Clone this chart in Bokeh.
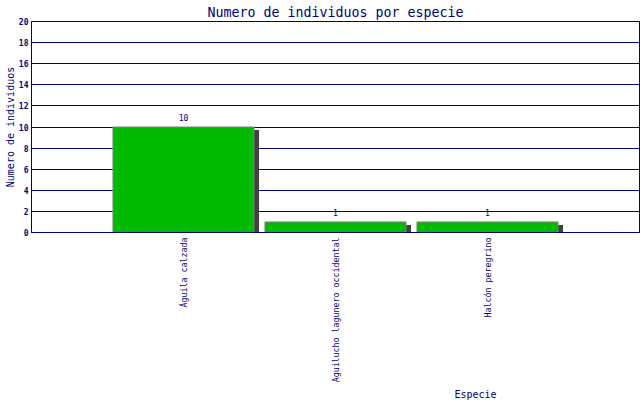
import math
from bokeh.plotting import figure
from bokeh.embed import file_html
from bokeh.resources import INLINE
from bokeh.models import Range1d, FixedTicker, Title, ColumnDataSource
from bokeh.core.properties import value

# data
especies = ["Águila calzada", "Aguilucho lagunero occidental", "Halcón peregrino"]
individuos = [10, 1, 1]
y_ticks = [0, 2, 4, 6, 8, 10, 12, 14, 16, 18, 20]

NAVY = "#000080"
MONO = "DejaVu Sans Mono"

xs = list(range(1, len(especies) + 1))
src = ColumnDataSource(data=dict(
    x=xs,
    top=individuos,
    label=[str(v) for v in individuos],
    sx=[x + 0.033 for x in xs],
    stop=[v - 0.28 for v in individuos],
))

p = figure(width=640, height=400, output_backend="svg", toolbar_location=None,
           x_range=Range1d(0, len(especies) + 1), y_range=Range1d(0, 20),
           title="Numero de individuos por especie")
p.min_border_left = 31
p.min_border_right = 1
p.min_border_top = 20
p.min_border_bottom = 167
p.background_fill_color = "white"
p.border_fill_color = "white"
p.outline_line_color = NAVY
p.outline_line_width = 1

p.title.align = "center"
p.title.text_color = NAVY
p.title.text_font = MONO
p.title.text_font_size = "13.3px"
p.title.text_font_style = "normal"
p.title.standoff = 4

# grid
p.xgrid.grid_line_color = None
p.ygrid.grid_line_color = NAVY
p.ygrid.grid_line_width = 1
p.ygrid.ticker = FixedTicker(ticks=y_ticks)

# y axis
p.yaxis.ticker = FixedTicker(ticks=y_ticks)
p.yaxis.axis_label = "Numero de individuos"
p.yaxis.axis_label_text_font = MONO
p.yaxis.axis_label_text_font_size = "10px"
p.yaxis.axis_label_text_font_style = "normal"
p.yaxis.axis_label_text_color = NAVY
p.yaxis.axis_label_standoff = 0
p.yaxis.major_label_text_font = MONO
p.yaxis.major_label_text_font_size = "8px"
p.yaxis.major_label_text_font_style = "bold"
p.yaxis.major_label_text_color = NAVY
p.yaxis.major_label_standoff = 3
p.yaxis.major_tick_out = 0
p.yaxis.major_tick_in = 0
p.yaxis.minor_tick_out = 0
p.yaxis.minor_tick_in = 0
p.yaxis.axis_line_color = NAVY

# x axis
p.xaxis.ticker = FixedTicker(ticks=xs)
p.xaxis.major_label_overrides = {x: e for x, e in zip(xs, especies)}
p.xaxis.major_label_orientation = math.pi / 2
p.xaxis.major_label_text_font = MONO
p.xaxis.major_label_text_font_size = "8.3px"
p.xaxis.major_label_text_color = NAVY
p.xaxis.major_label_standoff = 5
p.xaxis.major_tick_out = 0
p.xaxis.major_tick_in = 0
p.xaxis.minor_tick_out = 0
p.xaxis.minor_tick_in = 0
p.xaxis.axis_line_color = NAVY

# x axis title, sits right of centre in the original
p.add_layout(Title(text="Especie", align="left", offset=423, standoff=2,
                   text_font=MONO, text_font_size="10px", text_font_style="normal",
                   text_color=NAVY), "below")

# shadows then bars
p.vbar(x="sx", top="stop", width=0.928, bottom=0, source=src,
       fill_color="#404040", line_color=None)
p.vbar(x="x", top="top", width=0.928, bottom=0, source=src,
       fill_color="#00BB00", line_color="#808080", line_width=1)

p.text(x="x", y="top", text="label", source=src, y_offset=-6,
       text_align="center", text_baseline="bottom",
       text_font=value(MONO), text_font_size="8px", text_color=NAVY)

open("out.html", "w").write(file_html(p, INLINE))
